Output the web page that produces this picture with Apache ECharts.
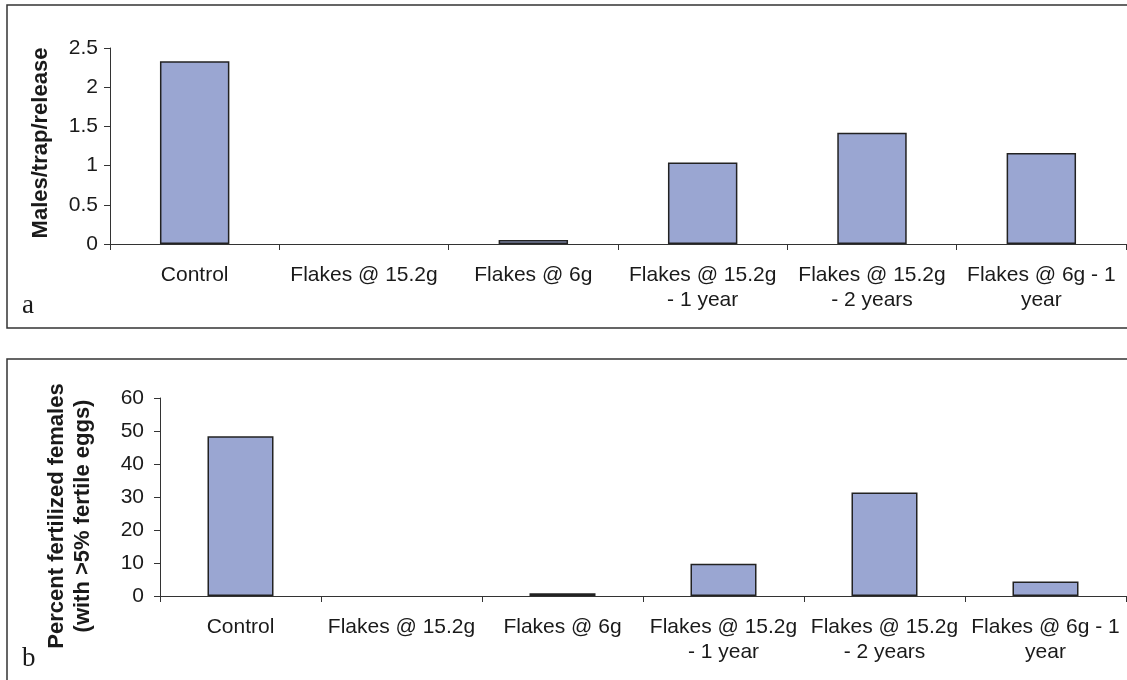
<!DOCTYPE html>
<html>
<head>
<meta charset="utf-8">
<script src="https://cdn.jsdelivr.net/npm/echarts@6/dist/echarts.min.js"></script>
<style>
  html, body { margin: 0; padding: 0; background: #fff; }
  #chart { width: 1127px; height: 680px; }
</style>
</head>
<body>
<div id="chart"></div>
<script>
// カテゴリ（上下のグラフで共通）
const categories = [
  'Control',
  'Flakes @ 15.2g',
  'Flakes @ 6g',
  'Flakes @ 15.2g\n- 1 year',
  'Flakes @ 15.2g\n- 2 years',
  'Flakes @ 6g - 1\nyear'
];

// a: Males/trap/release
const malesPerTrap = [2.33, 0, 0.05, 1.04, 1.42, 1.16];

// b: Percent fertilized females
const percentFertilized = [48.4, 0, 0.8, 9.8, 31.4, 4.4];

// 軸の目盛り
const ticksA = { min: 0, max: 2.5, interval: 0.5 };
const ticksB = { min: 0, max: 60, interval: 10 };

const chart = echarts.init(document.querySelector('#chart'));

const textColor = '#1a1a1a';
const lineColor = '#333';
const barColor = '#9aa6d2';
const sans = 'Liberation Sans, Arial, sans-serif';

// 値が0の棒は描かない（枠線だけが残らないように）
const toBars = values => values.map(v => (v === 0 ? null : v));

// 横軸の共通設定
const xAxisBase = {
  type: 'category',
  data: categories,
  axisLine: { lineStyle: { color: lineColor, width: 1 } },
  axisTick: { show: true, length: 6, lineStyle: { color: lineColor } },
  axisLabel: {
    interval: 0,
    color: textColor,
    fontFamily: sans,
    fontSize: 21,
    lineHeight: 25,
    margin: 19
  }
};

// 縦軸の共通設定
const yAxisBase = {
  type: 'value',
  splitLine: { show: false },
  axisLine: { show: true, lineStyle: { color: lineColor, width: 1 } },
  axisTick: { show: true, length: 6, lineStyle: { color: lineColor } },
  nameLocation: 'middle',
  nameRotate: 90
};

const nameStyle = {
  color: textColor,
  fontFamily: sans,
  fontWeight: 'bold',
  fontSize: 22,
  lineHeight: 26
};

const barBase = {
  type: 'bar',
  barWidth: '41%',
  itemStyle: { color: barColor, borderColor: '#222', borderWidth: 1.5 }
};

const option = {
  animation: false,
  grid: [
    { left: 110, right: 1, top: 48, height: 196 },
    { left: 160, right: 1, top: 398, height: 198 }
  ],
  xAxis: [
    Object.assign({ gridIndex: 0 }, xAxisBase),
    Object.assign({ gridIndex: 1 }, xAxisBase)
  ],
  yAxis: [
    Object.assign({}, yAxisBase, {
      gridIndex: 0,
      min: ticksA.min, max: ticksA.max, interval: ticksA.interval,
      name: 'Males/trap/release',
      nameGap: 56,
      nameTextStyle: Object.assign({ padding: [0, 0, 0, 6] }, nameStyle),
      axisLabel: { color: textColor, fontSize: 21, margin: 12, fontFamily: sans }
    }),
    Object.assign({}, yAxisBase, {
      gridIndex: 1,
      min: ticksB.min, max: ticksB.max, interval: ticksB.interval,
      name: 'Percent fertilized females\n(with >5% fertile eggs)',
      nameGap: 64,
      nameTextStyle: Object.assign({ padding: [0, 38, 0, 0] }, nameStyle),
      axisLabel: { color: textColor, fontSize: 21, margin: 16, fontFamily: sans }
    })
  ],
  series: [
    Object.assign({ xAxisIndex: 0, yAxisIndex: 0, data: toBars(malesPerTrap) }, barBase),
    Object.assign({ xAxisIndex: 1, yAxisIndex: 1, data: toBars(percentFertilized) }, barBase)
  ],
  // パネルの枠とラベル
  graphic: [
    {
      type: 'rect', silent: true,
      shape: { x: 7, y: 5, width: 1200, height: 323 },
      style: { fill: 'none', stroke: lineColor, lineWidth: 1.5 }
    },
    {
      type: 'rect', silent: true,
      shape: { x: 7, y: 359, width: 1200, height: 400 },
      style: { fill: 'none', stroke: lineColor, lineWidth: 1.5 }
    },
    {
      type: 'text', left: 22, top: 292,
      style: { text: 'a', fill: textColor, font: '27px "Liberation Serif", serif' }
    },
    {
      type: 'text', left: 22, top: 645,
      style: { text: 'b', fill: textColor, font: '27px "Liberation Serif", serif' }
    }
  ]
};

chart.setOption(option);
</script>
</body>
</html>
